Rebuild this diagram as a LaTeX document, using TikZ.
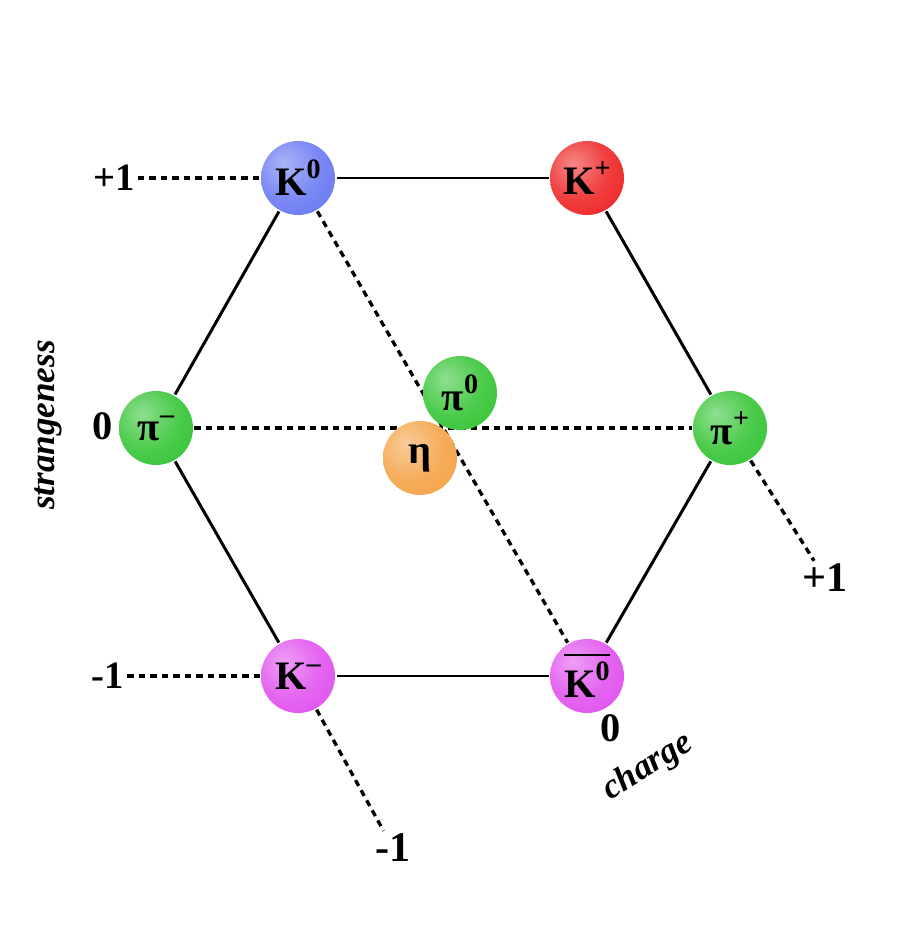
\documentclass[tikz,border=0pt]{standalone}
\usepackage{fontspec}
\setmainfont{Liberation Serif}
\usetikzlibrary{positioning}

\definecolor{mesonblue}{HTML}{6878F2}
\definecolor{mesonred}{HTML}{EE2424}
\definecolor{mesongreen}{HTML}{34C434}
\definecolor{mesonorange}{HTML}{F4A246}
\definecolor{mesonpink}{HTML}{E050EE}
\colorlet{ballc}{mesongreen}

\pgfdeclareradialshading[ballc]{meson}{\pgfpoint{-10bp}{10bp}}{%
  color(0bp)=(ballc!55!white);
  color(22bp)=(ballc!88!white);
  color(40bp)=(ballc);
  color(62bp)=(ballc!80!black);
  color(80bp)=(ballc!80!black)}

\newcommand{\upidx}[1]{\raisebox{0.42em}{\fontsize{16}{16}\selectfont #1}}
\newcommand{\barK}{\vbox{\hrule height 1pt \kern 1.2mm \hbox{K\upidx{0}}}}

\begin{document}
\begin{tikzpicture}[
    x=0.2mm, y=-0.2mm,
    meson/.style = {circle, minimum size=14.8mm, inner sep=0pt, shading=meson,
                    /utils/exec=\colorlet{ballc}{#1},
                    font=\bfseries\fontsize{23}{23}\selectfont},
    axislabel/.style = {inner sep=1pt, font=\bfseries\fontsize{#1}{#1}\selectfont},
    axisname/.style = {inner sep=0pt, font=\bfseries\itshape\fontsize{#1}{#1}\selectfont},
    axisline/.style = {line width=1.9pt, dash pattern=on 1.3mm off 1mm},
    line width=1.7pt
]
\useasboundingbox (0,0) rectangle (902,927);

% Strangeness +1
\node[meson=mesonblue] (K0) at (298,178) {K\upidx{0}};
\node[meson=mesonred]  (Kp) at (587,178) {K\upidx{+}};

% Strangeness 0
\node[meson=mesongreen] (pim) at (156,428) {π\upidx{–}};
\node[meson=mesongreen] (pip) at (730,428) {π\upidx{+}};

% Strangeness -1
\node[meson=mesonpink] (Km)  at (298,676) {K\upidx{–}};
\node[meson=mesonpink] (K0b) at (587,676) {\barK};

% Axis labels
\node[axislabel=22] (splus)  at (114,178) {+1};
\node[axislabel=23] (szero)  at (103,426) {0};
\node[axislabel=22] (sminus) at (108,676) {-1};
\node[axislabel=24] (cplus)  at (825,578) {+1};
\node[axislabel=23] (czero)  at (611,728) {0};
\node[axislabel=24] (cminus) at (393,848) {-1};
\node[axisname=20, rotate=90] (strange) at (48,425) {strangeness};
\node[axisname=20, rotate=32] (charge)  at (648,767) {charge};

% Edges
\draw (K0) -- (Kp);
\draw (Kp) -- (pip);
\draw (pip) -- (K0b);
\draw (K0b) -- (Km);
\draw (Km) -- (pim);
\draw (pim) -- (K0);

% Axes
\draw[axisline] (splus) -- (K0);
\draw[axisline] (sminus) -- (Km);
\draw[axisline] (pim) -- (pip);
\draw[axisline] (K0) -- (K0b);
\draw[axisline] (pip) -- (cplus);
\draw[axisline] (Km) -- (cminus);

% Centre
\node[meson=mesongreen]  (pi0) at (460,393) {π\upidx{0}};
\node[meson=mesonorange] (eta) at (420,458) {η};

\end{tikzpicture}
\end{document}
